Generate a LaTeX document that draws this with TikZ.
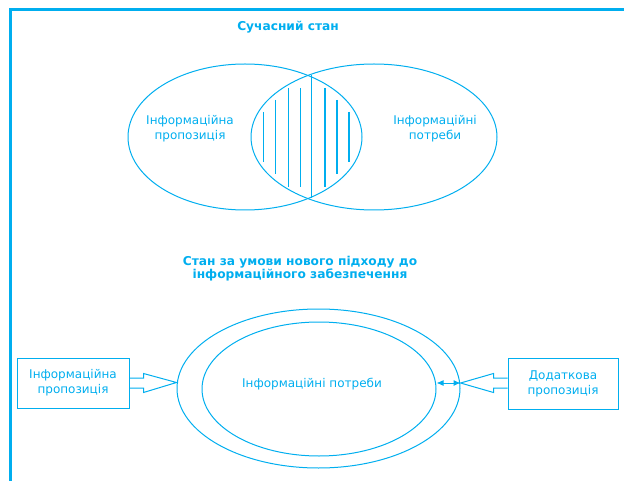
\documentclass[tikz,border=0pt]{standalone}
\usepackage{fontspec}
\setmainfont{DejaVu Sans}
\usetikzlibrary{shapes.geometric,calc,arrows.meta}
\definecolor{mycyan}{RGB}{0,174,239}
\begin{document}
\begin{tikzpicture}[x=1pt,y=-1pt,
  txt/.style={text=mycyan,font=\fontsize{12}{15}\selectfont,align=center,inner sep=0},
  ttl/.style={text=mycyan,font=\fontsize{12.2}{13.5}\selectfont\bfseries,align=center,inner sep=0},
  ell/.style={draw=mycyan,line width=1pt,ellipse,inner sep=0},
  boxx/.style={draw=mycyan,line width=1pt,inner sep=0,text=mycyan,font=\fontsize{12}{15}\selectfont,align=center},
  hatch/.style={draw=mycyan,line width=1.1pt},
  blockarrow/.style={draw=mycyan,line width=1pt,line join=miter}
]
\useasboundingbox (0,0) rectangle (624,481);
% frame
\draw[mycyan,line width=3pt] (10.5,481) -- (10.5,9.5) -- (624,9.5);

% titles
\node[ttl] (t1) at (288,27) {Сучасний стан};
\node[ttl] (t2) at (300,268.5) {Стан за умови нового підходу до\\інформаційного забезпечення};

% Venn
\node[ell,minimum width=234pt,minimum height=146pt] (le) at (245,137) {};
\node[ell,minimum width=246pt,minimum height=146pt] (re) at (374,137) {};
\node[txt] (lt) at (190,128.5) {Інформаційна\\пропозиція};
\node[txt] (rt) at (435,128.5) {Інформаційні\\потреби};
% hatch
\draw[hatch] (311.5,75) -- (311.5,198);
\draw[hatch] (263.3,112) -- (263.3,162);
\draw[hatch] (275.7,100) -- (275.7,174);
\draw[hatch] (288.3,88) -- (288.3,187);
\draw[hatch] (300.3,88) -- (300.3,187);
\draw[hatch] (325,88) -- (325,187);
\draw[hatch] (337,100) -- (337,174);
\draw[hatch] (349,112) -- (349,162);

% bottom
\node[ell,minimum width=283pt,minimum height=159pt] (outer) at (318.5,388.5) {};
\node[ell,minimum width=234pt,minimum height=134pt] (inner) at (319,389) {};
\node[txt] (it) at (312,384) {Інформаційні потреби};

\node[boxx,minimum width=112pt,minimum height=50pt] (lb) at (73,383) {Інформаційна\\пропозиція};
\node[boxx,minimum width=110pt,minimum height=51pt] (rb) at (563,383.5) {Додаткова\\пропозиція};

\coordinate (ltip) at ($(outer.west)+(0,-6)$);
\coordinate (rtip) at ($(outer.east)+(0,-5.5)$);
\draw[blockarrow] ($(lb.east)+(0,-5)$) -- ++(14,0) -- ++(0,-4.5) -- (ltip)
  -- ($(lb.east)+(14,9.5)$) -- ++(0,-4.5) -- ($(lb.east)+(0,5)$);
\draw[blockarrow] ($(rb.west)+(0,-5.5)$) -- ++(-14,0) -- ++(0,-4.5) -- (rtip)
  -- ($(rb.west)+(-14,9)$) -- ++(0,-4.5) -- ($(rb.west)+(0,4.5)$);

\draw[mycyan,line width=1pt,{Latex[length=7pt,width=6pt]}-{Latex[length=7pt,width=6pt]}]
  ($(inner.east)+(0,-6)$) -- (rtip);
\end{tikzpicture}
\end{document}
